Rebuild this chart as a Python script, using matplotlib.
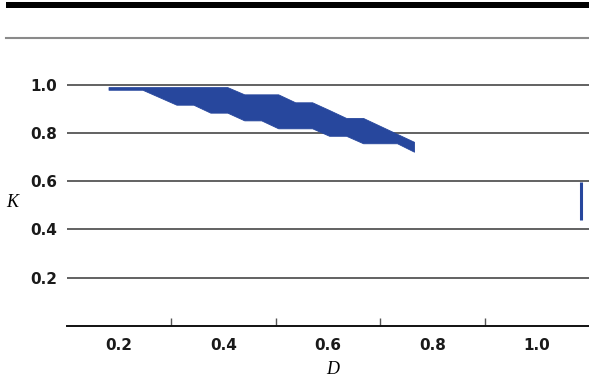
import matplotlib
matplotlib.use("Agg")
import matplotlib.pyplot as plt
from matplotlib.patches import Rectangle
from matplotlib.lines import Line2D

# Band of K against D: evenly spaced D samples with lower/upper K bounds
d_values = [0.180, 0.2125, 0.245, 0.2775, 0.310, 0.3425, 0.375, 0.4075, 0.440,
            0.4725, 0.505, 0.5375, 0.570, 0.6025, 0.635, 0.6675, 0.700, 0.7325, 0.765]
k_upper = [0.990, 0.990, 0.990, 0.990, 0.990, 0.990, 0.990, 0.990, 0.960,
           0.960, 0.960, 0.927, 0.927, 0.895, 0.862, 0.862, 0.829, 0.796, 0.763]
k_lower = [0.979, 0.979, 0.979, 0.948, 0.917, 0.917, 0.884, 0.884, 0.852,
           0.852, 0.819, 0.819, 0.819, 0.788, 0.788, 0.757, 0.757, 0.757, 0.722]

# Isolated range at the right edge
d_single = 1.085
k_single_range = [0.440, 0.598]

x_label_values = [0.2, 0.4, 0.6, 0.8, 1.0]
x_tick_marks = [0.3, 0.5, 0.7, 0.9]
y_tick_values = [0.2, 0.4, 0.6, 0.8, 1.0]

BLUE = "#27479d"
GRID = "#474747"

fig = plt.figure(figsize=(5.89, 3.85), dpi=100)
ax = fig.add_axes([0.1133, 0.154, 0.8867, 0.6886])

ax.fill_between(d_values, k_lower, k_upper, color=BLUE, linewidth=0.6,
                edgecolor=BLUE, zorder=3)
ax.vlines(d_single, k_single_range[0], k_single_range[1], color=BLUE,
          linewidth=2.2, zorder=3)

ax.set_xlim(0.1, 1.1)
ax.set_ylim(0, 1.1)

# horizontal grid
ax.set_yticks(y_tick_values)
ax.set_yticklabels([f"{v:.1f}" for v in y_tick_values])
for v in y_tick_values:
    ax.axhline(v, color=GRID, linewidth=1.2, zorder=1)
ax.tick_params(axis="y", length=0, pad=7, labelsize=11)

# x axis: tick marks between labels, labels without marks
ax.set_xticks(x_tick_marks)
ax.set_xticklabels([])
ax.set_xticks(x_label_values, minor=True)
ax.set_xticklabels([f"{v:.1f}" for v in x_label_values], minor=True)
ax.tick_params(axis="x", which="major", direction="in", length=6, width=1,
               color="#555555")
ax.tick_params(axis="x", which="minor", length=0, pad=9, labelsize=11)

for lbl in ax.get_xticklabels(minor=True) + ax.get_yticklabels():
    lbl.set_fontweight("bold")
    lbl.set_color("#1a1a1a")

for side in ("top", "right", "left"):
    ax.spines[side].set_visible(False)
ax.spines["bottom"].set_color("#111111")
ax.spines["bottom"].set_linewidth(1.4)

fig.text(12 / 589, 1 - 203 / 385, "K", fontsize=13, style="italic",
         family="Liberation Serif", ha="center", va="center")
fig.text(333 / 589, 1 - 370 / 385, "D", fontsize=13, style="italic",
         family="Liberation Serif", ha="center", va="center")

# header rules
fig.add_artist(Rectangle((6 / 589, 1 - 7.5 / 385), 1, 5.5 / 385,
                         transform=fig.transFigure, color="black", lw=0))
fig.add_artist(Line2D([6 / 589, 1], [1 - 38 / 385, 1 - 38 / 385],
                      transform=fig.transFigure, color="#8a8a8a", lw=1.5))

fig.savefig("out.png", dpi=100)
